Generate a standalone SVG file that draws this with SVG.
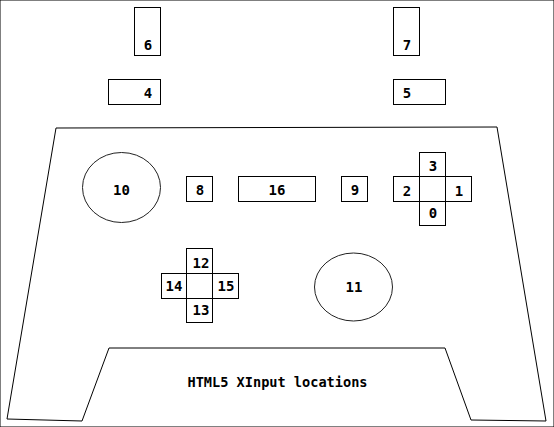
<svg xmlns="http://www.w3.org/2000/svg" width="554" height="427" viewBox="0 0 554 427">
<style>
rect,ellipse,polygon{fill:#fff;stroke:#000;stroke-width:1}
ellipse{stroke:#222}
text{font-family:"DejaVu Sans Mono","Liberation Mono",monospace;font-weight:bold;font-size:14px;text-anchor:middle;fill:#000}
</style>
<rect width="554" height="427" fill="#fff" stroke="none"/>
<g id="body"><polygon points="56,128 497,127 546,421 471,420 445,348 109,348 82,421 7,419"/></g>
<g id="b6"><rect x="134.5" y="7.5" width="26" height="48"/><text x="148" y="50">6</text></g>
<g id="b7"><rect x="393.5" y="7.5" width="26" height="48"/><text x="407" y="49.5">7</text></g>
<g id="b4"><rect x="108.5" y="79.5" width="52" height="25"/><text x="148" y="98">4</text></g>
<g id="b5"><rect x="393.5" y="79.5" width="52" height="25"/><text x="407" y="98">5</text></g>
<g id="b10"><ellipse cx="121.5" cy="187.5" rx="39" ry="35"/><text x="121.5" y="195">10</text></g>
<g id="b8"><rect x="186.5" y="176.5" width="26" height="25"/><text x="200" y="195">8</text></g>
<g id="b16"><rect x="238.5" y="176.5" width="77" height="25"/><text x="277" y="195">16</text></g>
<g id="b9"><rect x="341.5" y="176.5" width="26" height="25"/><text x="355" y="195">9</text></g>
<g id="b3"><rect x="419.5" y="152.5" width="26" height="24"/><text x="433" y="171">3</text></g>
<g id="b2"><rect x="393.5" y="176.5" width="26" height="25"/><text x="407" y="195.5">2</text></g>
<g id="b1"><rect x="445.5" y="176.5" width="26" height="25"/><text x="459" y="195.5">1</text></g>
<g id="b0"><rect x="419.5" y="201.5" width="26" height="24"/><text x="433" y="217.5">0</text></g>
<g id="b12"><rect x="186.5" y="248.5" width="26" height="25"/><text x="201" y="267.5">12</text></g>
<g id="b14"><rect x="161.5" y="273.5" width="25" height="25"/><text x="174" y="291">14</text></g>
<g id="b15"><rect x="212.5" y="273.5" width="26" height="25"/><text x="226" y="291">15</text></g>
<g id="b13"><rect x="186.5" y="298.5" width="26" height="24"/><text x="201" y="315">13</text></g>
<g id="b11"><ellipse cx="353.5" cy="287" rx="39" ry="34"/><text x="354" y="292">11</text></g>
<g id="caption"><text x="277.5" y="387" style="font-size:13.6px">HTML5 XInput locations</text></g>
<g id="connectors"></g>
</svg>
